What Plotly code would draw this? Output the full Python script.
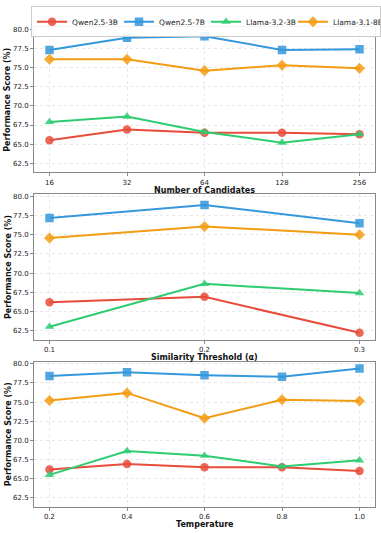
import plotly.graph_objects as go

# data
models = ['Qwen2.5-3B', 'Qwen2.5-7B', 'Llama-3.2-3B', 'Llama-3.1-8B']
colors = ['#e74c3c', '#3498db', '#2ecc71', '#f39c12']
symbols = ['circle', 'square', 'triangle-up', 'diamond']

candidates = ['16', '32', '64', '128', '256']
cand_scores = {
    'Qwen2.5-3B': [65.5, 66.9, 66.5, 66.5, 66.3],
    'Qwen2.5-7B': [77.3, 78.9, 79.1, 77.3, 77.4],
    'Llama-3.2-3B': [67.9, 68.6, 66.6, 65.2, 66.3],
    'Llama-3.1-8B': [76.1, 76.1, 74.6, 75.3, 74.9],
}

thresholds = [0.1, 0.2, 0.3]
thr_scores = {
    'Qwen2.5-3B': [66.2, 66.9, 62.2],
    'Qwen2.5-7B': [77.2, 78.9, 76.5],
    'Llama-3.2-3B': [63.0, 68.6, 67.4],
    'Llama-3.1-8B': [74.6, 76.1, 75.0],
}

temperatures = [0.2, 0.4, 0.6, 0.8, 1.0]
temp_scores = {
    'Qwen2.5-3B': [66.2, 66.9, 66.5, 66.5, 66.0],
    'Qwen2.5-7B': [78.4, 78.9, 78.5, 78.3, 79.4],
    'Llama-3.2-3B': [65.5, 68.6, 68.0, 66.6, 67.4],
    'Llama-3.1-8B': [75.2, 76.2, 72.9, 75.3, 75.15],
}

panels = [
    (candidates, cand_scores, 'Number of Candidates'),
    (thresholds, thr_scores, 'Similarity Threshold (α)'),
    (temperatures, temp_scores, 'Temperature'),
]

W, H = 381, 533
L, R, T, B = 34, 6, 22, 26
pw, ph_all = W - L - R, H - T - B
tops = [22, 191, 360]
ph = 147


def px_x(p):
    return (p - L) / pw


def px_y(p):
    return (H - B - p) / ph_all


fig = go.Figure()
annotations = []
for i, (xs, scores, xtitle) in enumerate(panels):
    ax = '' if i == 0 else str(i + 1)
    for m, c, s in zip(models, colors, symbols):
        fig.add_trace(go.Scatter(
            x=xs, y=scores[m], mode='lines+markers', name=m,
            line=dict(color=c, width=2),
            marker=dict(symbol=s, size=8.5, color=c, opacity=0.85),
            showlegend=(i == 0),
            xaxis='x' + ax, yaxis='y' + ax,
        ))
    top = tops[i]
    axis_common = dict(showline=True, linecolor='#888', linewidth=1, mirror=True,
                       showgrid=True, gridcolor='#e8e8e8', griddash='dot',
                       zeroline=False, ticks='outside', ticklen=3, tickcolor='#888',
                       automargin=False,
                       tickfont=dict(size=7, color='#222'))
    if i == 0:
        xaxis = dict(type='category', range=[-0.2, 4.2], **axis_common)
    elif i == 1:
        xaxis = dict(range=[0.09, 0.31], tickvals=thresholds, **axis_common)
    else:
        xaxis = dict(range=[0.16, 1.04], tickvals=temperatures,
                     tickformat='.1f', **axis_common)
    xaxis.update(domain=[0, 1], anchor='y' + ax)
    yaxis = dict(range=[61.3, 80.3], tickvals=[62.5, 65, 67.5, 70, 72.5, 75, 77.5, 80],
                 tickformat='.1f', domain=[px_y(top + ph), px_y(top)],
                 anchor='x' + ax, **axis_common)
    fig.update_layout(**{'xaxis' + ax: xaxis, 'yaxis' + ax: yaxis})
    annotations.append(dict(text='<b>' + xtitle + '</b>', xref='paper', yref='paper',
                            x=0.5, y=px_y(top + ph + 18),
                            showarrow=False, font=dict(size=8, color='#111'),
                            xanchor='center', yanchor='middle'))
    annotations.append(dict(text='<b>Performance Score (%)</b>', xref='paper', yref='paper',
                            x=px_x(8), y=px_y(top + ph / 2), textangle=-90,
                            showarrow=False, font=dict(size=8, color='#111'),
                            xanchor='center', yanchor='middle'))

fig.update_layout(
    width=W, height=H,
    margin=dict(l=L, r=R, t=T, b=B),
    plot_bgcolor='white', paper_bgcolor='white',
    font=dict(family='DejaVu Sans', color='#222'),
    annotations=annotations,
    legend=dict(orientation='h', x=px_x(33), y=px_y(1), xanchor='left', yanchor='top',
                bordercolor='#ccc', borderwidth=1, font=dict(size=7.5),
                bgcolor='rgba(255,255,255,0.9)',
                entrywidth=42, itemwidth=30, tracegroupgap=0),
)

fig.write_html('out.html', config={'displayModeBar': False},
               post_script="document.body.style.margin='0';")
